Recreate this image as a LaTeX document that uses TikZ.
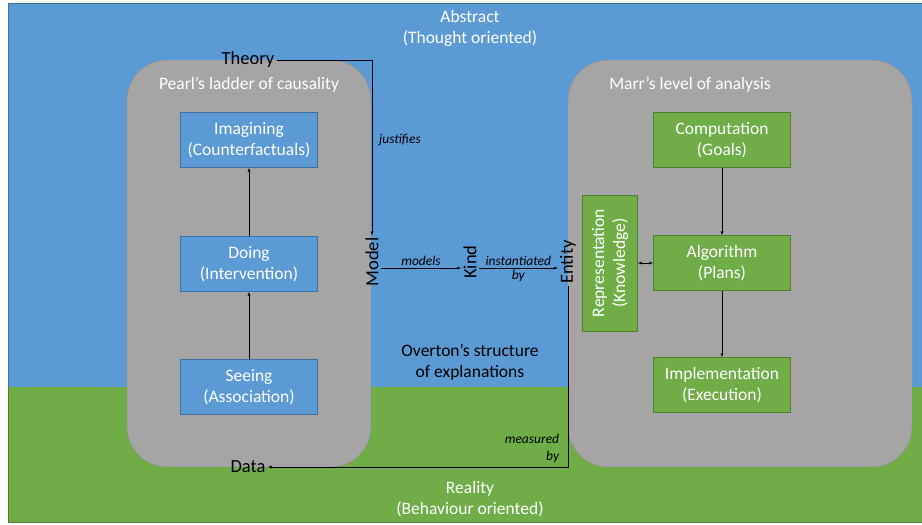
\documentclass[tikz,border=0pt]{standalone}
\usepackage{fontspec}
\setmainfont{Carlito}
\usetikzlibrary{positioning}

\definecolor{skyblue}{HTML}{5B9BD5}
\definecolor{skyedge}{HTML}{41719C}
\definecolor{grassgreen}{HTML}{70AD47}
\definecolor{grassedge}{HTML}{507E32}
\definecolor{panelgray}{HTML}{A5A5A5}
\definecolor{paneledge}{HTML}{8C8C8C}

\tikzset{
  ladderbox/.style={draw=skyedge, fill=skyblue, text=white, minimum width=137pt,
    minimum height=55pt, align=center, font=\fontsize{17.5}{21}\selectfont},
  marrbox/.style={draw=grassedge, fill=grassgreen, text=white, minimum width=137pt,
    minimum height=55pt, align=center, font=\fontsize{17.5}{21}\selectfont},
  panel/.style={draw=paneledge, fill=panelgray, rounded corners=40pt},
  heading/.style={text=white, align=center, font=\fontsize{17.5}{21}\selectfont},
  term/.style={text=black, font=\fontsize{18.5}{20}\selectfont, inner sep=2pt},
  verb/.style={font=\fontsize{13.5}{17}\selectfont\itshape, align=center, inner sep=2pt},
  link/.style={->, >=latex, black, thin}
}

\begin{document}
\begin{tikzpicture}[x=1pt, y=-1pt]
\useasboundingbox (0,0) rectangle (922,525);
% abstract sky and reality ground
\fill[skyblue] (8,3) rectangle (922,387);
\draw[skyedge, thick] (8,387) -- (8,3) -- (922,3);
\fill[grassgreen] (8,387) rectangle (922,522);
\draw[grassedge, thick] (8,387) -- (8,522) -- (922,522);

\node[heading] (abstract) at (470,28) {Abstract\\(Thought oriented)};
\node[heading] (reality) at (470,499) {Reality\\(Behaviour oriented)};

% the two frameworks
\draw[panel] (127,60) rectangle (371,467);
\draw[panel] (568,60) rectangle (912,467);
\node[heading] (pearl) at (249,85) {Pearl’s ladder of causality};
\node[heading] (marr) at (690,85) {Marr’s level of analysis};

% Pearl's ladder
\node[ladderbox] (imagining) at (249,140) {Imagining\\(Counterfactuals)};
\node[ladderbox] (doing) at (249,264) {Doing\\(Intervention)};
\node[ladderbox] (seeing) at (249,387) {Seeing\\(Association)};
\draw[link] (seeing) -- (doing);
\draw[link] (doing) -- (imagining);

% Marr's levels
\node[marrbox] (computation) at (722,140) {Computation\\(Goals)};
\node[marrbox] (algorithm) at (722,263) {Algorithm\\(Plans)};
\node[marrbox] (implementation) at (722,385) {Implementation\\(Execution)};
\node[marrbox, rotate=90, minimum width=136pt] (representation) at (610,263) {Representation\\(Knowledge)};
\draw[link] (computation) -- (algorithm);
\draw[link] (algorithm) -- (implementation);
\draw[<->, >=latex, black, thin] (representation.south) -- (algorithm.west);

% Overton's structure
\node[term] (theory) at (248,60) {Theory};
\node[term] (data) at (248,467) {Data};
\node[term, rotate=90] (model) at (372,262) {Model};
\node[term, rotate=90] (kind) at (470,262) {Kind};
\node[term, rotate=90] (entity) at (568,262) {Entity};
\node[text=black, align=center, font=\fontsize{17.5}{21}\selectfont] (overton) at (470,362) {Overton’s structure\\of explanations};

\draw[link] (theory.east) -| (model.east);
\node[verb] (justifies) at (400,140) {justifies};
\draw[link] ([yshift=-6pt]model.south) -- node[verb, above] {models} ([yshift=-6pt]kind.north);
\draw[link] ([yshift=-6pt]kind.south) -- node[verb, above] {instantiated} node[verb, below] {by} ([yshift=-6pt]entity.north);
\draw[link] (entity.west) |- (data.east);
\node[verb, align=right] (measured) at (532,448) {measured\\by};
\end{tikzpicture}
\end{document}
